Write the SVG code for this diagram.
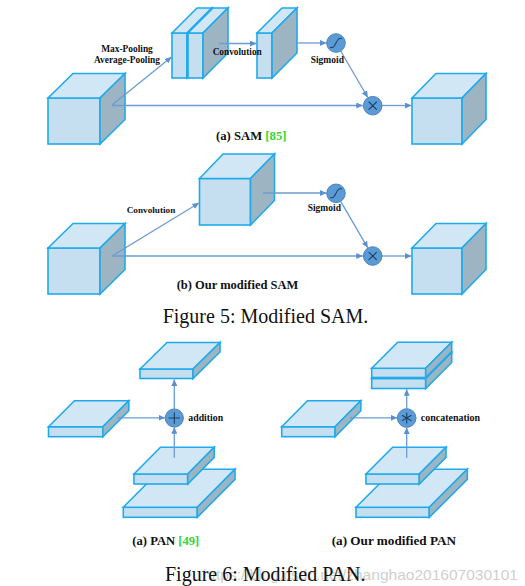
<svg xmlns="http://www.w3.org/2000/svg" width="525" height="586" viewBox="0 0 525 586">
<defs>
<style>
.f{fill:#c5dff1;stroke:#1faaec;stroke-width:1.6;stroke-linejoin:miter}
.t{fill:#d2e7f5;stroke:#1faaec;stroke-width:1.6;stroke-linejoin:miter}
.s{fill:#9db5c3;stroke:#1faaec;stroke-width:1.6;stroke-linejoin:miter}
.ln{fill:none;stroke:#6b9cd2;stroke-width:1.3;marker-end:url(#ah)}
.op{fill:#5b9bd5;stroke:#4a84bd;stroke-width:1}
.sym{fill:none;stroke:#1d3f68;stroke-width:1.1;stroke-linecap:round}
.lb{font-family:"Liberation Serif","Times New Roman",serif;font-weight:bold;fill:#111}
.cap{font-family:"Liberation Serif","Times New Roman",serif;font-size:20px;fill:#111}
.grn{fill:#33d633}
</style>
<marker id="ah" markerUnits="userSpaceOnUse" markerWidth="7" markerHeight="6" refX="6.5" refY="3" orient="auto">
<path d="M0,0 L6.5,3 L0,6 z" fill="#5b8fcf"/>
</marker>
</defs>
<rect width="525" height="586" fill="#ffffff"/>

<!-- watermark -->
<text x="203" y="580" font-family="Liberation Sans, Arial, sans-serif" font-size="15" fill="#cfcfcf" textLength="315" lengthAdjust="spacingAndGlyphs">https://blog.csdn.net/zhanghao201607030101</text>

<!-- ===== (a) SAM ===== -->
<g id="samA-input">
<rect class="f" x="48" y="98" width="52" height="46"/>
<polygon class="t" points="48,98 73,73.5 125,73.5 100,98"/>
<polygon class="s" points="100,98 125,73.5 125,119.5 100,144"/>
</g>
<g id="samA-pool">
<rect class="f" x="172" y="33" width="15" height="45"/>
<polygon class="t" points="172,33 197,8 212,8 187,33"/>
<polygon class="s" points="187,33 212,8 212,53 187,78"/>
<rect class="f" x="188" y="33" width="15" height="45"/>
<polygon class="t" points="188,33 213,8 228,8 203,33"/>
<polygon class="s" points="203,33 228,8 228,53 203,78"/>
</g>
<g id="samA-conv">
<rect class="f" x="257" y="33" width="15" height="45"/>
<polygon class="t" points="257,33 282,8 297,8 272,33"/>
<polygon class="s" points="272,33 297,8 297,53 272,78"/>
</g>
<g id="samA-output">
<rect class="f" x="412" y="98" width="50" height="46"/>
<polygon class="t" points="412,98 436,73.5 486,73.5 462,98"/>
<polygon class="s" points="462,98 486,73.5 486,119.5 462,144"/>
</g>

<!-- ===== (b) modified SAM ===== -->
<g id="samB-input">
<rect class="f" x="48" y="248" width="52" height="46"/>
<polygon class="t" points="48,248 73,223.5 125,223.5 100,248"/>
<polygon class="s" points="100,248 125,223.5 125,269.5 100,294"/>
</g>
<g id="samB-conv">
<rect class="f" x="199.5" y="178.5" width="51" height="46.5"/>
<polygon class="t" points="199.5,178.5 223,154 274.5,154 250.5,178.5"/>
<polygon class="s" points="250.5,178.5 274.5,154 274.5,200.5 250.5,225"/>
</g>
<g id="samB-output">
<rect class="f" x="412" y="248" width="50" height="46"/>
<polygon class="t" points="412,248 436,223.5 486,223.5 462,248"/>
<polygon class="s" points="462,248 486,223.5 486,269.5 462,294"/>
</g>

<!-- ===== PAN ===== -->
<g id="pan-top">
<rect class="f" x="140" y="369" width="53" height="9.5"/>
<polygon class="t" points="140,369 167,342.5 220,342.5 193,369"/>
<polygon class="s" points="193,369 220,342.5 220,352 193,378.5"/>
</g>
<g id="pan-left">
<rect class="f" x="48.5" y="426.7" width="54.3" height="10"/>
<polygon class="t" points="48.5,426.7 74.5,400.7 128.8,400.7 102.8,426.7"/>
<polygon class="s" points="102.8,426.7 128.8,400.7 128.8,410.7 102.8,436.7"/>
</g>
<g id="pan-bottom">
<rect class="f" x="123.3" y="507.3" width="74" height="10"/>
<polygon class="t" points="123.3,507.3 161,469.3 235,469.3 197.3,507.3"/>
<polygon class="s" points="197.3,507.3 235,469.3 235,479.3 197.3,517.3"/>
<rect class="f" x="134" y="474" width="53.7" height="10"/>
<polygon class="t" points="134,474 160.5,447.3 214.2,447.3 187.7,474"/>
<polygon class="s" points="187.7,474 214.2,447.3 214.2,457.3 187.7,484"/>
</g>

<!-- ===== modified PAN ===== -->
<g id="mpan-top">
<rect class="f" x="371.7" y="378.5" width="54" height="10"/>
<polygon class="t" points="371.7,378.5 397.7,352.5 451.7,352.5 425.7,378.5"/>
<polygon class="s" points="425.7,378.5 451.7,352.5 451.7,362.5 425.7,388.5"/>
<rect class="f" x="371.7" y="368.3" width="54" height="9.2"/>
<polygon class="t" points="371.7,368.3 397.7,342.3 451.7,342.3 425.7,368.3"/>
<polygon class="s" points="425.7,368.3 451.7,342.3 451.7,351.5 425.7,377.5"/>
</g>
<g id="mpan-left">
<rect class="f" x="281.7" y="426.7" width="53.3" height="10"/>
<polygon class="t" points="281.7,426.7 307.5,400.7 360.8,400.7 335,426.7"/>
<polygon class="s" points="335,426.7 360.8,400.7 360.8,410.7 335,436.7"/>
</g>
<g id="mpan-bottom">
<rect class="f" x="356" y="507.3" width="73.3" height="10"/>
<polygon class="t" points="356,507.3 394,469.3 467.3,469.3 429.3,507.3"/>
<polygon class="s" points="429.3,507.3 467.3,469.3 467.3,479.3 429.3,517.3"/>
<rect class="f" x="366" y="474" width="53.3" height="10"/>
<polygon class="t" points="366,474 392.7,447.3 446,447.3 419.3,474"/>
<polygon class="s" points="419.3,474 446,447.3 446,457.3 419.3,484"/>
</g>

<!-- ===== connectors ===== -->
<g id="connectors">
<path class="ln" d="M112,105 L171.5,57"/>
<path class="ln" d="M112,105.5 L362.8,105.5"/>
<path class="ln" d="M219,43.5 L256.5,43.5"/>
<path class="ln" d="M297,43 L326.5,43"/>
<path class="ln" d="M340.7,51 L367.8,97.5"/>
<path class="ln" d="M382,105.5 L411.5,105.5"/>

<path class="ln" d="M112,256 L199,203"/>
<path class="ln" d="M112,256 L362.8,256"/>
<path class="ln" d="M263,193 L326.5,193"/>
<path class="ln" d="M340.7,201.3 L367.8,247.8"/>
<path class="ln" d="M382,256 L411.5,256"/>

<path class="ln" d="M117.3,417.8 L165,417.8"/>
<path class="ln" d="M174.3,457.7 L174.3,427.2"/>
<path class="ln" d="M174.3,408.8 L174.3,379.5"/>

<path class="ln" d="M350,417.8 L397.2,417.8"/>
<path class="ln" d="M406.7,457.7 L406.7,427.4"/>
<path class="ln" d="M406.7,408.6 L406.7,389.3"/>
</g>

<!-- ===== operators ===== -->
<g id="samA-sigmoid">
<circle class="op" cx="336" cy="43" r="9.3"/>
<path class="sym" d="M330.5,47.5 L332.3,47.5 C335.2,47.5 336.8,38.5 339.7,38.5 L341.5,38.5"/>
</g>
<g id="samA-mult">
<circle class="op" cx="372.7" cy="105.7" r="9.3"/>
<path class="sym" d="M369,102 L376.4,109.4 M369,109.4 L376.4,102"/>
</g>
<g id="samB-sigmoid">
<circle class="op" cx="336" cy="193.3" r="9.3"/>
<path class="sym" d="M330.5,197.8 L332.3,197.8 C335.2,197.8 336.8,188.8 339.7,188.8 L341.5,188.8"/>
</g>
<g id="samB-mult">
<circle class="op" cx="372.7" cy="256" r="9.3"/>
<path class="sym" d="M369,252.3 L376.4,259.7 M369,259.7 L376.4,252.3"/>
</g>
<g id="pan-add">
<circle class="op" cx="174.3" cy="418" r="9.1"/>
<path class="sym" d="M169,418 L179.6,418 M174.3,412.7 L174.3,423.3" stroke-width="1.4"/>
</g>
<g id="mpan-concat">
<circle class="op" cx="406.7" cy="418" r="9.3"/>
<path class="sym" d="M406.7,413 L406.7,423 M402.4,415.5 L411,420.5 M402.4,420.5 L411,415.5"/>
</g>

<!-- ===== labels ===== -->
<g id="labels">
<text class="lb" font-size="9.4" x="127" y="51.5" text-anchor="middle">Max-Pooling</text>
<text class="lb" font-size="9.4" x="127" y="62.5" text-anchor="middle">Average-Pooling</text>
<text class="lb" font-size="9.3" x="237.2" y="54.5" text-anchor="middle">Convolution</text>
<text class="lb" font-size="9.5" x="327.3" y="63.3" text-anchor="middle">Sigmoid</text>
<text class="lb" font-size="12.7" x="216" y="140">(a) SAM <tspan class="grn">[85]</tspan></text>

<text class="lb" font-size="9.2" x="151" y="213.3" text-anchor="middle">Convolution</text>
<text class="lb" font-size="9.5" x="324.3" y="211" text-anchor="middle">Sigmoid</text>
<text class="lb" font-size="12.5" x="176.7" y="288.7">(b) Our modified SAM</text>

<text class="cap" x="162.7" y="322.5">Figure 5: Modified SAM.</text>

<text class="lb" font-size="9.8" x="188.3" y="421">addition</text>
<text class="lb" font-size="10" x="420.7" y="421">concatenation</text>
<text class="lb" font-size="12.6" x="132.3" y="545">(a) PAN <tspan class="grn">[49]</tspan></text>
<text class="lb" font-size="13.2" x="331.7" y="545">(a) Our modified PAN</text>

<text class="cap" x="165" y="581">Figure 6: Modified PAN.</text>
</g>
</svg>
